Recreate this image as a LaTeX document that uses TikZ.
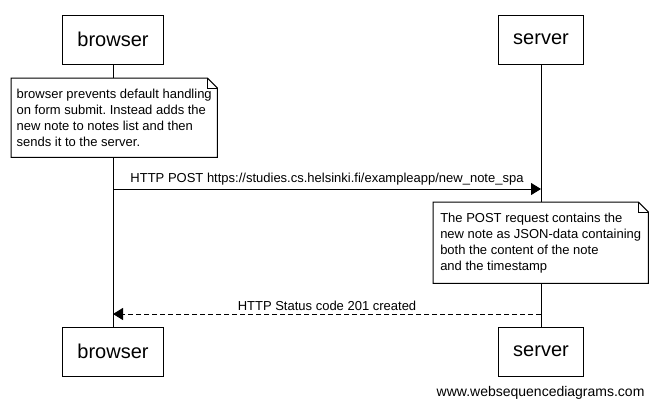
\documentclass[tikz,border=0pt]{standalone}
\usepackage{fontspec}
\setmainfont{Liberation Sans}
\usepackage{tikz}
\usetikzlibrary{arrows.meta,positioning,calc}
\frenchspacing

\begin{document}
\begin{tikzpicture}[
    x=1pt, y=-1pt,
    actor/.style={draw, line width=1pt, minimum height=49pt, inner xsep=15pt, font=\fontsize{20pt}{24pt}\selectfont},
    note/.style={fill=white, align=left, inner xsep=3pt, anchor=north west, font=\fontsize{13pt}{16pt}\selectfont},
    lifeline/.style={line width=1pt},
    msg/.style={line width=1pt, -{Triangle[length=10pt,width=12pt]}},
    reply/.style={msg, dash pattern=on 5pt off 3pt},
    label/.style={above, font=\fontsize{13pt}{16pt}\selectfont}
]
\path[fill=white, use as bounding box] (0,0) rectangle (658,410);

% actors, top and bottom
\node[actor] (browser) at (113,39.5) {browser};
\node[actor] (server) at (541,39.5) {server};
\node[actor] (browserB) at (113,351.5) {browser};
\node[actor] (serverB) at (541,351.5) {server};

% lifelines
\draw[lifeline] (browser.south) -- (browserB.north);
\draw[lifeline] (server.south) -- (serverB.north);

% notes
\node[note, minimum width=206pt, minimum height=79pt] (submitnote) at (11,78)
    {browser prevents default handling\\on form submit. Instead adds the\\new note to notes list and then\\sends it to the server.};
\node[note, minimum width=215pt, minimum height=81pt] (jsonnote) at (433,202)
    {The POST request contains the\\new note as JSON-data containing\\both the content of the note\\and the timestamp};
\foreach \n in {submitnote,jsonnote} {
    \draw[line width=1pt] (\n.north west) -- ([xshift=-10pt]\n.north east)
        -- ([yshift=-10pt]\n.north east) -- (\n.south east) -- (\n.south west) -- cycle;
    \draw[line width=0.8pt] ([xshift=-10pt]\n.north east) -- ([xshift=-10pt,yshift=-10pt]\n.north east)
        -- ([yshift=-10pt]\n.north east);
}

% messages
\coordinate (postA) at (113,189);
\coordinate (postB) at (541,189);
\coordinate (okA) at (113,314);
\coordinate (okB) at (541,314);
\draw[msg] (postA) -- node[label] {HTTP POST https://studies.cs.helsinki.fi/exampleapp/new\_note\_spa} (postB);
\draw[reply] (okB) -- node[label] {HTTP Status code 201 created} (okA);

\node[anchor=east, font=\fontsize{14pt}{16pt}\selectfont] (credit) at (648,393) {www.websequencediagrams.com};
\end{tikzpicture}
\end{document}
